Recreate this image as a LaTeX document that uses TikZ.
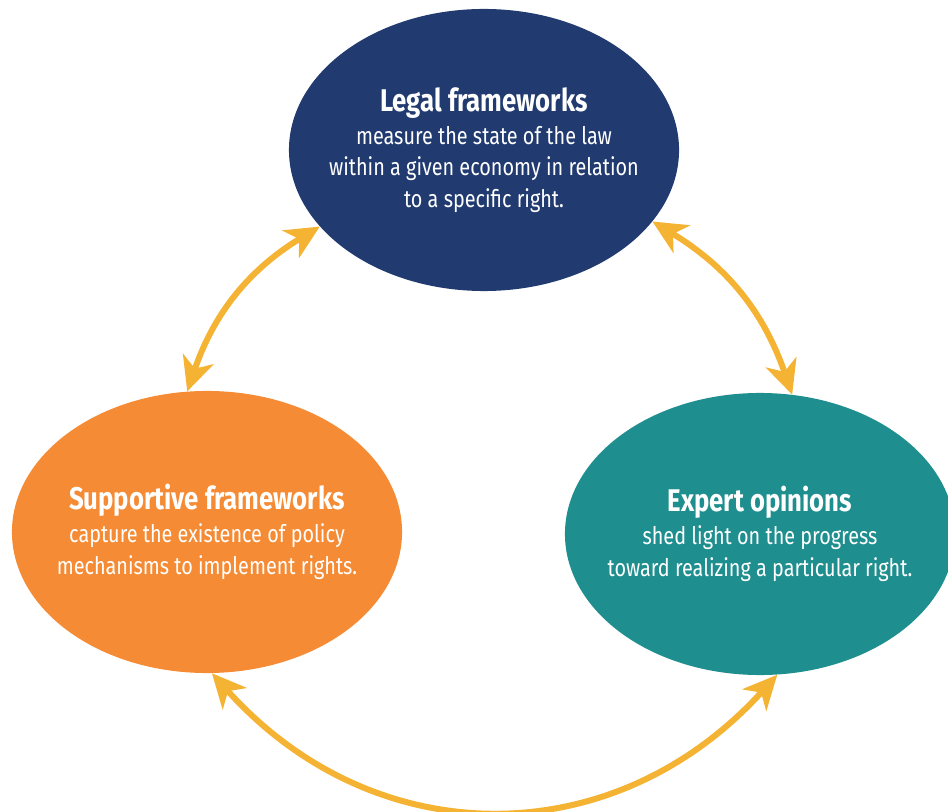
\documentclass[tikz,border=0pt]{standalone}
\usepackage{fontspec}
\setmainfont{Fira Sans}[FakeStretch=0.82]
\usepackage{xcolor}
\usetikzlibrary{positioning,arrows.meta,shapes.geometric}
\definecolor{legalblue}{HTML}{213A70}
\definecolor{supportorange}{HTML}{F58B34}
\definecolor{expertteal}{HTML}{1F8E8F}
\definecolor{linkyellow}{HTML}{F4B332}
\newcommand{\headfont}{\fontsize{22.3}{24}\selectfont\bfseries}
\tikzset{
pillar/.style={
ellipse,
minimum width=9.75cm,
minimum height=7.05cm,
inner xsep=-1.5cm,
inner ysep=0pt,
align=center,
text=white,
font=\fontsize{17.2}{22.4}\selectfont
},
link/.style={
{Stealth[length=8.5mm,width=8mm,inset=2.5mm]}-{Stealth[length=8.5mm,width=8mm,inset=2.5mm]},
line width=1.5mm,
draw=linkyellow
}
}

\begin{document}
\begin{tikzpicture}[x=0.025cm,y=0.025cm]
\useasboundingbox (0,0) rectangle (948,811);
\node[pillar,fill=legalblue](legal) at (484,661){{\headfont Legal frameworks}\\[1pt]measure the state of the law\\within a given economy in relation\\to a specific right.};
\node[pillar,fill=supportorange](support) at (207,279){{\headfont Supportive frameworks}\\[1pt]capture the existence of policy\\mechanisms to implement rights.};
\node[pillar,fill=expertteal](expert) at (760,277){{\headfont Expert opinions}\\[1pt]shed light on the progress\\toward realizing a particular right.};

\foreach \x/\y/\b in {legal.205/support.98/-20,legal.337/expert.77/20}
\draw[link](\x) to[bend left=\b] (\y);
\draw[link](support.272) to[bend right=48,looseness=1.1] (expert.277);
\end{tikzpicture}
\end{document}
